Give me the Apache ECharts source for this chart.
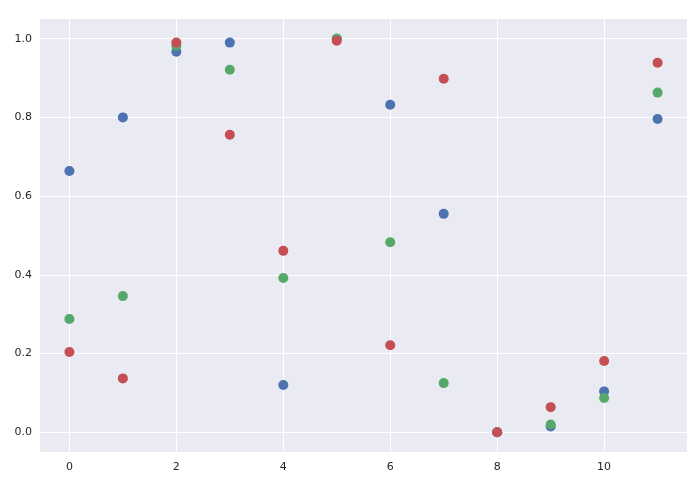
<!DOCTYPE html><html><head><meta charset="utf-8"><script src="https://cdn.jsdelivr.net/npm/echarts@6/dist/echarts.min.js"></script></head><body style="margin:0"><div id="c" style="width:695px;height:494px"></div><script>
const xs=[0,1,2,3,4,5,6,7,8,9,10,11];
const blue=[0.664,0.80,0.967,0.99,0.12,1.0,0.832,0.555,0.0,0.015,0.104,0.796];
const green=[0.288,0.346,0.982,0.921,0.392,1.0,0.483,0.125,0.0,0.02,0.087,0.863];
const red=[0.204,0.137,0.99,0.756,0.461,0.995,0.221,0.898,0.0,0.064,0.181,0.939];
const xTicks=[0,2,4,6,8,10];
const yTicks=[0,0.2,0.4,0.6,0.8,1.0];
const mk=(v,c)=>({type:'scatter',symbolSize:10,itemStyle:{color:c,opacity:1},data:xs.map((x,i)=>[x,v[i]])});
const lab={color:'#262626',fontSize:11,fontFamily:'DejaVu Sans'};
echarts.init(document.getElementById('c')).setOption({
grid:{left:40,right:8,top:19,bottom:42,show:true,backgroundColor:'#EAEAF2',borderWidth:0},
xAxis:{type:'value',min:-0.55,max:11.55,axisLine:{show:false},axisTick:{show:false,customValues:xTicks},
 axisLabel:Object.assign({customValues:xTicks,margin:10},lab),splitLine:{show:true,lineStyle:{color:'#fff',width:1}}},
yAxis:{type:'value',min:-0.05,max:1.05,axisLine:{show:false},axisTick:{show:false,customValues:yTicks},
 axisLabel:Object.assign({customValues:yTicks,margin:8,formatter:v=>v.toFixed(1)},lab),splitLine:{show:true,lineStyle:{color:'#fff',width:1}}},
series:[mk(blue,'#4C72B0'),mk(green,'#55A868'),mk(red,'#C44E52')]
});
</script></body></html>
